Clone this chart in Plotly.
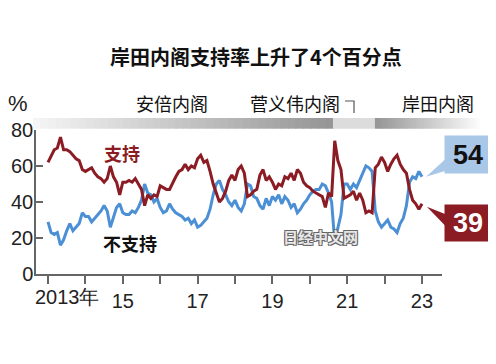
import plotly.graph_objects as go

# ---- data (monthly Nikkei poll, Jan 2013 - Jan 2023) ----
start_year = 2013
support = [62, 66, 69, 70, 76, 69, 69, 68, 66, 64, 63, 58,
           57, 58, 59, 56, 54, 53, 51, 53, 60, 54, 51, 44,
           51, 51, 52, 51, 53, 50, 47, 38, 44, 42, 44, 43,
           49, 48, 47, 47, 51, 54, 57, 58, 61, 58, 60, 59,
           64, 66, 62, 63, 57, 50, 45, 40, 42, 46, 52, 55,
           52, 58, 60, 56, 43, 44, 46, 47, 55, 58, 52, 54,
           51, 47, 50, 49, 54, 53, 56, 52, 58, 56, 51, 49,
           48, 46, 45, 44, 43, 37, 45, 43, 74, 63, 58, 42,
           43, 44, 46, 41, 45, 41, 34, 35, 34, 59, 61, 65,
           62, 57, 61, 64, 66, 61, 58, 56, 47, 41, 39, 36,
           39]
oppose = [29, 23, 22, 23, 16, 19, 24, 28, 24, 26, 28, 34,
          32, 32, 29, 31, 33, 35, 38, 35, 26, 31, 37, 39,
          34, 33, 33, 35, 34, 37, 41, 50, 45, 44, 40, 42,
          37, 34, 35, 39, 36, 34, 33, 32, 30, 31, 28, 30,
          26, 27, 29, 31, 36, 44, 50, 52, 47, 44, 40, 38,
          41, 37, 35, 39, 50, 49, 43, 42, 38, 36, 42, 38,
          43, 41, 44, 39, 43, 41, 37, 39, 34, 36, 39, 41,
          44, 46, 47, 47, 50, 49, 45, 40, 18, 26, 33, 50,
          50, 47, 50, 48, 52, 56, 60, 59, 57, 35, 29, 26,
          28, 30, 26, 25, 23, 28, 31, 38, 51, 54, 53, 57,
          54]
x_years = [start_year + i / 12 for i in range(len(support))]

tick_years = list(range(2013, 2024))
tick_text = ["", "", "15", "", "17", "", "19", "", "21", "", "23"]
cabinets = ["安倍内阁", "菅义伟内阁", "岸田内阁"]
cabinet_starts = [2012.6, 2020.62, 2021.74]
cabinet_ends = [2020.62, 2021.74, 2024.63]

RED = "#8b1c24"
BLUE = "#4b8fd5"
BOXBLUE = "#a9c7e7"
NARROW = "Liberation Sans Narrow, Liberation Sans, Arial"
CJK = "Noto Sans CJK SC, Noto Sans"
AXFONT = 20

# page has an 8px body margin: figure placed at (8, 8)
OFF = 8
W, H = 496 - OFF, 364 - OFF
ML, MT = 36 - OFF, 130 - OFF
MR = W - (442 - OFF)
MB = H - (274 - OFF)
X0, X1 = 2012.679, 2023.535
pw, ph = W - ML - MR, H - MT - MB


def xp(year):
    return (year - X0) / (X1 - X0)


def px2x(px):
    return (px - OFF - ML) / pw


def px2y(py):
    return (H - MB - (py - OFF)) / ph


def yp(v):
    return v / 80


fig = go.Figure()
fig.add_trace(go.Scatter(x=x_years, y=oppose, mode="lines",
                         line=dict(color=BLUE, width=3), hoverinfo="skip"))
fig.add_trace(go.Scatter(x=x_years, y=support, mode="lines",
                         line=dict(color=RED, width=3), hoverinfo="skip"))

shapes = []
band_y0, band_y1 = px2y(128.7), px2y(118)


def mix(c1, c2, t):
    return "rgb(%d,%d,%d)" % tuple(int(a + (b - a) * t) for a, b in zip(c1, c2))


light = (245, 245, 245)
dark = (150, 150, 150)
n = 40
a0, a1 = cabinet_starts[0], cabinet_ends[0]
for k in range(n):
    s0 = a0 + (a1 - a0) * k / n
    s1 = a0 + (a1 - a0) * (k + 1) / n
    shapes.append(dict(type="rect", xref="paper", yref="paper", x0=xp(s0), x1=xp(s1) + 0.002,
                       y0=band_y0, y1=band_y1, line=dict(width=0),
                       fillcolor=mix(light, dark, k / (n - 1))))
shapes.append(dict(type="rect", xref="paper", yref="paper", x0=xp(cabinet_starts[1]), x1=xp(cabinet_ends[1]),
                   y0=band_y0, y1=band_y1, line=dict(width=0), fillcolor="#dcdcdc"))
k0, k1 = cabinet_starts[2], cabinet_ends[2]
for k in range(n):
    s0 = k0 + (k1 - k0) * k / n
    s1 = k0 + (k1 - k0) * (k + 1) / n
    shapes.append(dict(type="rect", xref="paper", yref="paper", x0=xp(s0), x1=xp(s1) + 0.002,
                       y0=band_y0, y1=band_y1, line=dict(width=0),
                       fillcolor=mix(dark, (255, 255, 255), k / (n - 1))))
shapes.append(dict(type="path", xref="paper", yref="paper",
                   path="M %f %f L %f %f L %f %f" % (px2x(345), px2y(101), px2x(354), px2y(101),
                                                    px2x(354), px2y(113)),
                   line=dict(color="#555", width=1.2)))

xe = xp(x_years[-1])
ye_o, ye_s = yp(oppose[-1]), yp(support[-1])
bx = px2x(445)
shapes.append(dict(type="path", xref="paper", yref="paper",
                   path="M %f %f L %f %f L %f %f Z" % (xe + 0.01, ye_o, bx, ye_o + 0.12, bx, ye_o + 0.04),
                   fillcolor=BOXBLUE, line=dict(width=0)))
shapes.append(dict(type="path", xref="paper", yref="paper",
                   path="M %f %f L %f %f L %f %f Z" % (xe + 0.012, ye_s - 0.02, bx, ye_s - 0.07, bx, ye_s - 0.15),
                   fillcolor=RED, line=dict(width=0)))

ann = []


def label(text, px, py, font, xanchor="center", **kw):
    d = dict(text=text, xref="paper", yref="paper", x=px2x(px), y=px2y(py), showarrow=False,
             xanchor=xanchor, yanchor="middle", font=font)
    d.update(kw)
    ann.append(d)


label("<b>岸田内阁支持率上升了4个百分点</b>", 256, 56, dict(family=CJK, size=20, color="#111"))
label("%", 18, 103, dict(family=NARROW, size=22, color="#222"))
label_px = [172, 295, 438]
for name, lx in zip(cabinets, label_px):
    label(name, lx, 103, dict(family=CJK, size=18, color="#111"))
label("<b>支持</b>", 122, 153, dict(family=CJK, size=18, color=RED))
label("<b>不支持</b>", 130, 243, dict(family=CJK, size=18, color="#111"))
label("2013年", 33, 297, dict(family=NARROW, size=AXFONT, color="#222"), xanchor="left")
label("<b>日经中文网</b>", 320, 236,
      dict(family=CJK, size=15, color="#e8e8e8",
           shadow="-1px -1px 0 #666, 1px -1px 0 #666, -1px 1px 0 #666, 1px 1px 0 #666"))
label("<b>%d</b>" % oppose[-1], 468, 154.5, dict(family="Liberation Sans, Arial", size=27, color="#111"),
      width=46, height=37, bgcolor=BOXBLUE, borderpad=0)
label("<b>%d</b>" % support[-1], 468, 222.5, dict(family="Liberation Sans, Arial", size=27, color="#ffffff"),
      width=46, height=36, bgcolor=RED, borderpad=0)

fig.update_layout(
    width=W, height=H, margin=dict(l=ML, r=MR, t=MT, b=MB, autoexpand=False),
    paper_bgcolor="white", plot_bgcolor="white", showlegend=False,
    shapes=shapes, annotations=ann,
    xaxis=dict(range=[X0, X1], tickvals=tick_years, ticktext=tick_text, showgrid=False, zeroline=False,
               automargin=False,
               showline=True, linecolor="#666", linewidth=1.5, ticks="outside", ticklen=8,
               tickcolor="#666", tickwidth=1.5, tickfont=dict(family=NARROW, size=AXFONT, color="#222")),
    yaxis=dict(range=[0, 80], tickvals=[0, 20, 40, 60, 80], showgrid=False, zeroline=False,
               automargin=False,
               showline=True, linecolor="#666", linewidth=1.5, ticks="inside", ticklen=7,
               tickcolor="#666", tickwidth=1.5, ticklabelstandoff=-3,
               tickfont=dict(family=NARROW, size=AXFONT, color="#222")),
)

fig.write_html("out.html")
